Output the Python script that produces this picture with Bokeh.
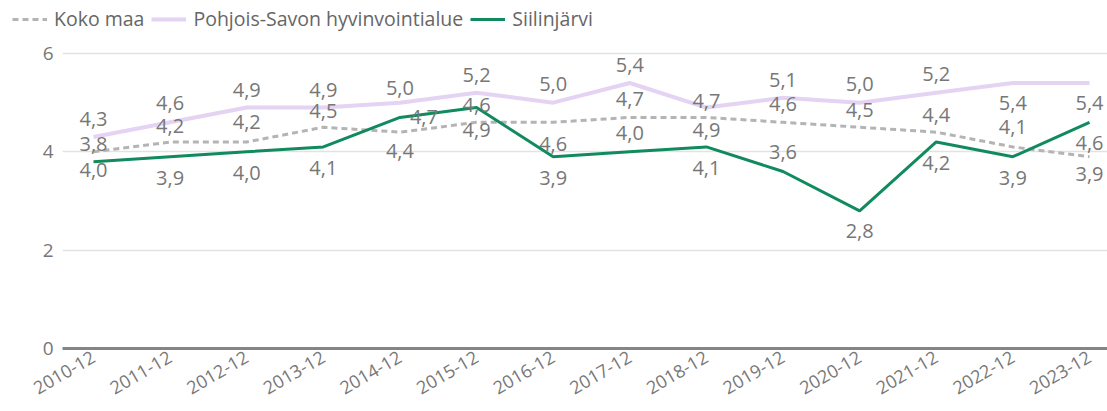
from bokeh.plotting import figure
from bokeh.layouts import column, row
from bokeh.models import (ColumnDataSource, FixedTicker, Range1d, Legend, LegendItem)
from bokeh.core.properties import value
from bokeh.embed import file_html
from bokeh.resources import INLINE

# ---- data ----
periods = ["2010-12", "2011-12", "2012-12", "2013-12", "2014-12", "2015-12", "2016-12",
           "2017-12", "2018-12", "2019-12", "2020-12", "2021-12", "2022-12", "2023-12"]
koko_maa = [4.0, 4.2, 4.2, 4.5, 4.4, 4.6, 4.6, 4.7, 4.7, 4.6, 4.5, 4.4, 4.1, 3.9]
pohjois_savo = [4.3, 4.6, 4.9, 4.9, 5.0, 5.2, 5.0, 5.4, 4.9, 5.1, 5.0, 5.2, 5.4, 5.4]
siilinjarvi = [3.8, 3.9, 4.0, 4.1, 4.7, 4.9, 3.9, 4.0, 4.1, 3.6, 2.8, 4.2, 3.9, 4.6]
series_names = ["Koko maa", "Pohjois-Savon hyvinvointialue", "Siilinjärvi"]
y_ticks = [0, 2, 4, 6]

# ---- label placement (screen px, positive = down) ----
koko_dy = [18, -16, -20, -16, 19, -17, 22, -18, -16, -18, -17, -17, -20, 17]
pohj_dy = [-18, -19, -18, -18, -15, -18, -19, -18, 22, -18, -19, -19, 20, 20]
siil_dy = [-18, 21, 21, 21, 0, 22, 21, -19, 21, -19, 20, 21, 21, 21]
siil_dx = [0, 0, 0, 0, 24, 0, 0, 0, 0, 0, 0, 0, 0, 0]

FONT = "Open Sans"
LABEL_COLOR = "#777777"
STYLES = [dict(line_color="#b4b4b4", line_width=3, line_dash="6 4"),
          dict(line_color="#e4d3f3", line_width=4),
          dict(line_color="#118a5e", line_width=3)]

def fmt(v):
    return f"{v:.1f}".replace(".", ",")

xs = list(range(len(periods)))

# ---------- main chart ----------
p = figure(width=1107, height=371, output_backend="svg", toolbar_location=None,
           x_range=Range1d(-0.4046, 13.235), y_range=Range1d(0, 6.264),
           min_border_left=62, min_border_right=0, min_border_top=0, min_border_bottom=63)
p.outline_line_color = None
p.background_fill_color = "white"
p.border_fill_color = "white"

p.xaxis.ticker = FixedTicker(ticks=xs)
p.xaxis.major_label_overrides = {i: lab for i, lab in enumerate(periods)}
p.xaxis.major_label_orientation = 0.5236
p.xaxis.axis_line_color = "#858585"
p.xaxis.axis_line_width = 3
p.xaxis.major_tick_line_color = None
p.xaxis.minor_tick_line_color = None
p.xaxis.major_tick_out = 0
p.xaxis.minor_tick_out = 0
p.xaxis.major_label_text_font = FONT
p.xaxis.major_label_text_font_size = "18px"
p.xaxis.major_label_text_color = LABEL_COLOR
p.xaxis.major_label_standoff = 7

p.yaxis.ticker = FixedTicker(ticks=y_ticks)
p.yaxis.axis_line_color = None
p.yaxis.major_tick_line_color = None
p.yaxis.minor_tick_line_color = None
p.yaxis.major_tick_out = 0
p.yaxis.minor_tick_out = 0
p.yaxis.major_label_text_font = FONT
p.yaxis.major_label_text_font_size = "19px"
p.yaxis.major_label_text_color = LABEL_COLOR
p.yaxis.major_label_standoff = 9

p.xgrid.grid_line_color = None
p.ygrid.ticker = FixedTicker(ticks=[2, 4, 6])
p.ygrid.grid_line_color = "#e2e2e2"
p.ygrid.grid_line_width = 1.5

src = ColumnDataSource(dict(
    x=xs, k=koko_maa, pk=pohjois_savo, s=siilinjarvi,
    kt=[fmt(v) for v in koko_maa], pt=[fmt(v) for v in pohjois_savo], st=[fmt(v) for v in siilinjarvi],
    kdy=koko_dy, pdy=pohj_dy, sdy=siil_dy, sdx=siil_dx,
))

for ycol, st in zip(("k", "pk", "s"), STYLES):
    p.line("x", ycol, source=src, **st)

for col, yc, dy, dx in (("kt", "k", "kdy", None), ("pt", "pk", "pdy", None), ("st", "s", "sdy", "sdx")):
    kw = dict(x_offset=dx) if dx else {}
    p.text("x", yc, text=col, source=src, y_offset=dy, text_align="center",
           text_baseline="middle", text_font=value(FONT), text_font_size="20px",
           text_color=LABEL_COLOR, **kw)

# ---------- legend row (series drawn off-view; only the legend is visible) ----------
lg = figure(width=1107, height=40, output_backend="svg", toolbar_location=None,
            x_axis_type=None, y_axis_type=None,
            x_range=Range1d(0, 1), y_range=Range1d(100, 101),
            min_border_left=0, min_border_right=0, min_border_top=0, min_border_bottom=0)
lg.outline_line_color = None
lg.grid.visible = False
items = []
for name, ycol, st in zip(series_names, ("k", "pk", "s"), STYLES):
    r = lg.line("x", ycol, source=src, **st)
    items.append(LegendItem(label=name, renderers=[r]))
legend = Legend(items=items, orientation="horizontal", location=(12, 8),
                glyph_width=35, glyph_height=20, label_standoff=7, spacing=7,
                padding=0, margin=0, border_line_color=None, background_fill_alpha=0,
                label_text_font=FONT, label_text_font_size="19.5px", label_text_color="#666666")
lg.add_layout(legend, "center")

layout = column(row(lg), p, spacing=0)
open("out.html", "w").write(file_html(layout, INLINE))
